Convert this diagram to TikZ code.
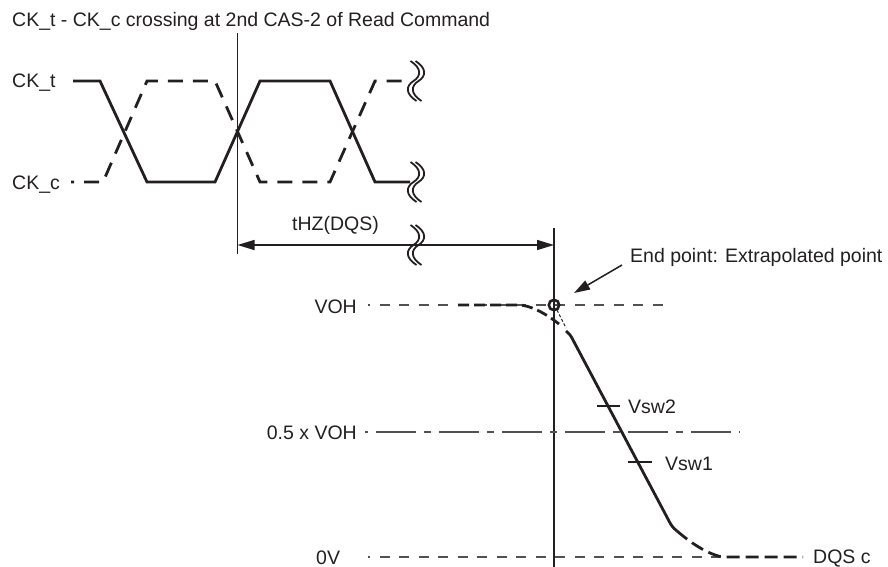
\documentclass[tikz,border=0pt]{standalone}
\usepackage{fontspec}
\setmainfont{Liberation Sans}
\usetikzlibrary{arrows.meta}
\definecolor{ink}{HTML}{231F20}
\definecolor{guide}{HTML}{505153}
\begin{document}
\begin{tikzpicture}[x=1pt,y=-1pt,
  lbl/.style={font=\fontsize{19.5}{22}\selectfont, text=ink, inner sep=0pt},
  sig/.style={draw=ink, line width=2.8pt, line join=miter},
  sigdash/.style={sig, dash pattern=on 15pt off 10pt},
  vline/.style={draw=ink, line width=1.5pt},
  guideline/.style={draw=guide, line width=1.7pt, dash pattern=on 10pt off 9.5pt},
  dashdot/.style={draw=guide, line width=1.7pt, dash pattern=on 40pt off 8pt on 7pt off 8pt},
  tick/.style={draw=ink, line width=1.6pt},
  brk/.pic={
    \foreach \d in {-2.5,2.5}{
      \draw[ink, line width=1.8pt] (\d-3,-20) .. controls (\d+8,-13) and (\d+8,-5) .. (\d,0)
        .. controls (\d-8,5) and (\d-8,13) .. (\d+3,20);
    }
  },
]
\useasboundingbox (0,0) rectangle (888,567);

% ---------- labels ----------
\node[lbl,anchor=base west] (title) at (12,27) {CK\_t - CK\_c crossing at 2nd CAS-2 of Read Command};
\node[lbl,anchor=base west] (ckt) at (12,88) {CK\_t};
\node[lbl,anchor=base west] (ckc) at (12,189) {CK\_c};
\node[lbl,anchor=base west] (thz) at (292,230) {tHZ(DQS)};
\node[lbl,anchor=base east] (voh) at (357,313) {VOH};
\node[lbl,anchor=base east] (hvoh) at (357,439) {0.5 x VOH};
\node[lbl,anchor=base west] (zero) at (316,564) {0V};
\node[lbl,anchor=base west] (dqs) at (813,563) {DQS c};
\node[lbl,anchor=base west] (endpt) at (630,262) {End point: Extrapolated point};
\node[lbl,anchor=base west] (vsw2) at (628,413) {Vsw2};
\node[lbl,anchor=base west] (vsw1) at (665,470) {Vsw1};

% ---------- clocks ----------
\draw[sig] (73,81) -- (100,81) -- (147,182) -- (215,182) -- (260,81) -- (330,81) -- (375,182) -- (410,182);
\draw[sigdash, dash phase=12pt] (71,182) -- (103,182) -- (147,81) -- (215,81) -- (260,182) -- (330,182) -- (375,81) -- (410,81);
\pic at (416,81) {brk};
\pic at (416,182) {brk};

% ---------- reference verticals and tHZ ----------
\coordinate (v1t) at (237.5,33);
\coordinate (v1b) at (237.5,254);
\draw[vline] (v1t) -- (v1b);
\coordinate (v2t) at (554,228);
\coordinate (v2b) at (554,567);
\draw[vline] (v2t) -- (v2b);
\coordinate (a1) at (237.5,245);
\coordinate (a2) at (554,245);
\draw[vline, {Triangle[length=17pt,width=10pt]}-{Triangle[length=17pt,width=10pt]}] (a1) -- (a2);
\pic at (416,245) {brk};

% ---------- level lines ----------
\draw[guideline, dash phase=8pt] (368,305) -- (670,305);
\draw[dashdot, dash phase=52pt] (365,432) -- (740,432);
\draw[guideline, dash phase=8pt] (368,557) -- (722,557);

% ---------- DQS_c waveform ----------
\draw[sig, dash pattern=on 11pt off 5pt] (458,305) -- (518,305) .. controls (530,305) and (545,313) .. (559,324);
\draw[ink, line width=1.1pt, dash pattern=on 3pt off 2pt] (557,310) -- (566,328);
\draw[sig, line join=round] (566,331) .. controls (569,333) and (571,336) .. (573,340) -- (669,521) .. controls (671,525) and (673,528) .. (677,531);
\draw[sig, dash pattern=on 13pt off 6pt, dash phase=19pt] (677,531) .. controls (690,542) and (705,553) .. (722,557) -- (803,557);

% extrapolated end point
\coordinate (ep) at (554,305);
\draw[ink, line width=2.6pt] (ep) circle[radius=5.2pt];
\coordinate (eptail) at (622,265);
\coordinate (ephead) at (574,293);
\draw[ink, line width=1.5pt, -{Triangle[length=16pt,width=10pt]}] (eptail) -- (ephead);

% Vsw ticks
\draw[tick] (597,406) -- (620,406);
\draw[tick] (628,462) -- (652,462);
\end{tikzpicture}
\end{document}
